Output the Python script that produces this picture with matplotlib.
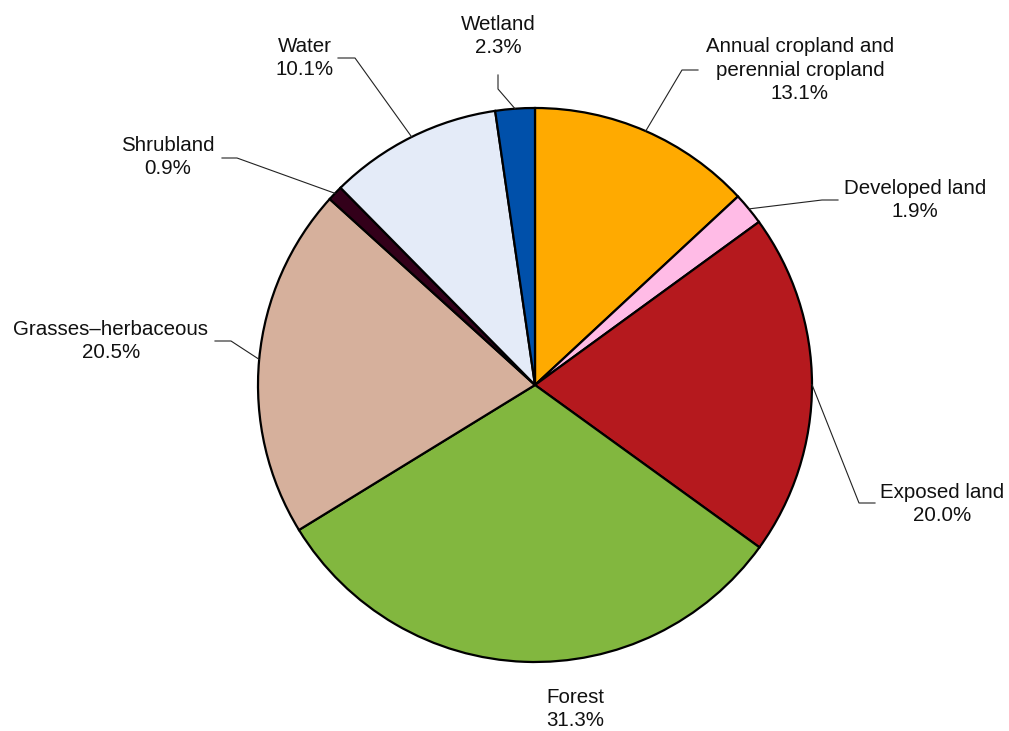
import matplotlib.pyplot as plt
import numpy as np

plt.rcParams['font.family'] = ['Liberation Sans', 'DejaVu Sans']

# data
labels = ['Annual cropland and\nperennial cropland', 'Developed land', 'Exposed land', 'Forest',
          'Grasses\u2013herbaceous', 'Shrubland', 'Water', 'Wetland']
shares = [13.1, 1.9, 20.0, 31.3, 20.5, 0.9, 10.1, 2.3]
colors = ['#FFAA00', '#FFBBE6', '#B5191E', '#82B73F', '#D6B09C', '#33001A', '#E4EBF8', '#0050AA']

W, H = 1009, 731
fig = plt.figure(figsize=(W / 100, H / 100), dpi=100)
ax = fig.add_axes([0, 0, 1, 1])

cx, cy, r = 535, H - 385, 277
wedges, _ = ax.pie(shares, colors=colors, startangle=90, counterclock=False,
                   center=(cx, cy), radius=r,
                   wedgeprops=dict(edgecolor='black', linewidth=1.6))

# label layout: (text x, text y top-based, elbow x, elbow y, end x) ; None = no leader
layout = [
    (800, 70, 682, 70, 698),
    (915, 200, 822, 200, 838),
    (942, 504, 859, 503, 875),
    (575, 709, None, None, None),
    (111, 341, 231, 341, 215),
    (168, 157, 237, 158, 222),
    (305, 58, 355, 58, 338),
    (498, 36, 498, 89, 498),
]

for w, lab, s, (tx, ty, ex, ey, endx) in zip(wedges, labels, shares, layout):
    txt = f'{lab}\n{s:.1f}%'
    ax.text(tx, H - ty, txt, ha='center', va='center', fontsize=14.8,
            color='#111111', linespacing=1.3)
    if ex is None:
        continue
    ang = np.deg2rad((w.theta1 + w.theta2) / 2)
    sx, sy = cx + r * np.cos(ang), cy + r * np.sin(ang)
    if lab == 'Wetland':
        ax.plot([sx, ex, endx], [sy, H - ey, H - 75], color='#222222', lw=0.8)
    else:
        ax.plot([sx, ex, endx], [sy, H - ey, H - ey], color='#222222', lw=0.8)

ax.set_xlim(0, W)
ax.set_ylim(0, H)
ax.axis('off')
fig.savefig('out.png', dpi=100)
